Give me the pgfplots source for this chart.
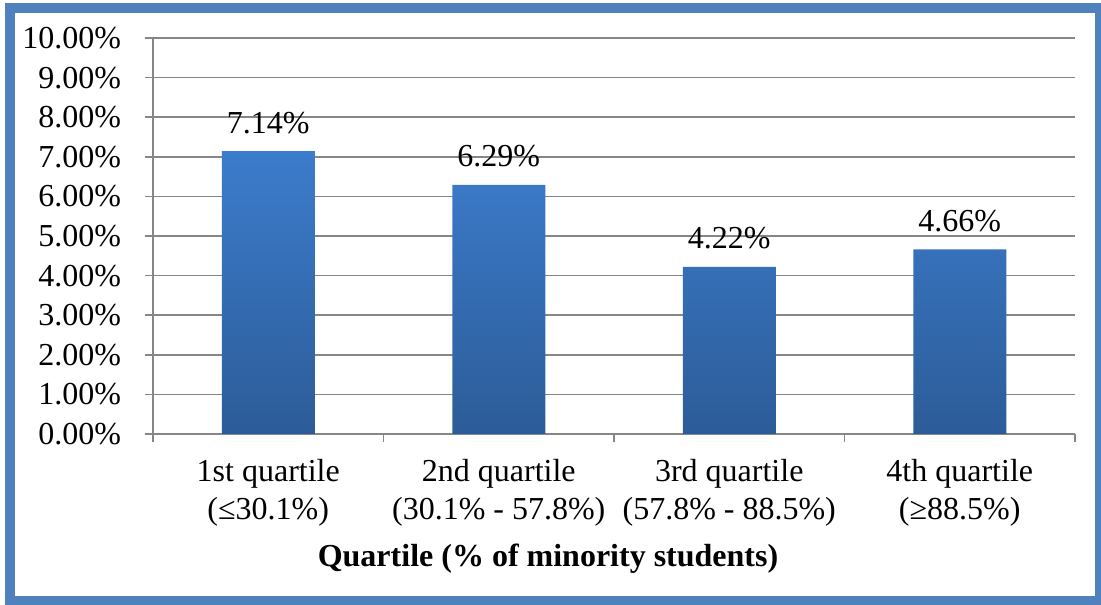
\documentclass[border=0pt]{standalone}
\usepackage{fontspec}
\setmainfont{Liberation Serif}
\usepackage{pgfplots}
\pgfplotsset{compat=1.18}
\definecolor{frameblue}{RGB}{79,129,189}
\definecolor{bartop}{RGB}{60,124,204}
\definecolor{barbot}{RGB}{44,92,152}
\definecolor{gridgray}{RGB}{134,134,134}
\begin{document}
\fontsize{16}{19}\selectfont
\begin{tikzpicture}
\useasboundingbox (0pt,0pt) rectangle (550.5pt,302pt);
\draw[frameblue, line width=5pt] (5pt,1.5pt) rectangle (550pt,298pt);
\begin{axis}[
    at={(76.5pt,85pt)}, anchor=south west,
    scale only axis, width=461pt, height=198pt,
    xmin=-0.5, xmax=3.5, ymin=0, ymax=10,
    axis lines*=left,
    axis line style={gridgray, line width=0.8pt},
    /pgf/number format/assume math mode=true,
    ytick={0,1,...,10},
    yticklabel={\pgfmathprintnumber[fixed,fixed zerofill,precision=2]{\tick}\%},
    ytick align=outside, major tick length=4pt,
    ymajorgrids=true,
    major grid style={gridgray, line width=0.8pt},
    major tick style={gridgray, line width=0.8pt},
    xtick={0,1,2,3},
    major x tick style={draw=none},
    minor xtick={-0.5,0.5,1.5,2.5,3.5},
    xtick align=outside, minor tick length=4pt,
    minor tick style={gridgray, line width=0.8pt},
    xticklabels={{1st quartile\\(≤30.1\%)},{2nd quartile\\(30.1\% - 57.8\%)},{3rd quartile\\(57.8\% - 88.5\%)},{4th quartile\\(≥88.5\%)}},
    xticklabel style={align=center, yshift=-3pt, font=\fontsize{16}{19}\selectfont},
    yticklabel style={xshift=-6.5pt, font=\fontsize{16}{19}\selectfont},
]
\addplot[ybar, bar width=46.5pt, draw=none, top color=bartop, bottom color=barbot,
    nodes near coords={\pgfmathprintnumber[fixed,fixed zerofill,precision=2]{\pgfplotspointmeta}\%},
    every node near coord/.append style={anchor=base, yshift=9pt, text=black, font=\fontsize{16}{19}\selectfont}]
  coordinates {(0,7.14) (1,6.29) (2,4.22) (3,4.66)};
\end{axis}
\node[anchor=base, font=\fontsize{16}{19}\selectfont\bfseries] at (274pt,18.5pt) {Quartile (\% of minority students)};
\end{tikzpicture}
\end{document}
